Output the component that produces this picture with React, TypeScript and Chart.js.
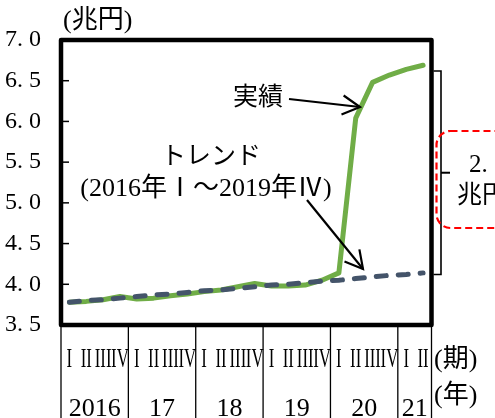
import { useEffect, useRef } from "react";
import { Chart, registerables } from "chart.js";
import type { Plugin } from "chart.js";

Chart.register(...registerables);

// 2016 Q1 – 2021 Q2
const quarterNames = [
  "I", "II", "III", "IV",
  "I", "II", "III", "IV",
  "I", "II", "III", "IV",
  "I", "II", "III", "IV",
  "I", "II", "III", "IV",
  "I", "II",
];
const yearNames = ["2016", "17", "18", "19", "20", "21"];
const yearQuarterCounts = [4, 4, 4, 4, 4, 2];

// 兆円
const actualValues = [
  3.78, 3.79, 3.81, 3.85, 3.82, 3.83, 3.86, 3.88, 3.91, 3.93, 3.97,
  4.01, 3.98, 3.98, 3.99, 4.05, 4.14, 6.04, 6.48, 6.57, 6.64, 6.69,
];
const trendValues = [
  3.78, 3.80, 3.81, 3.83, 3.85, 3.87, 3.88, 3.90, 3.92, 3.93, 3.95,
  3.97, 3.99, 4.00, 4.02, 4.04, 4.05, 4.07, 4.09, 4.11, 4.12, 4.14,
];

const yMin = 3.5;
const yMax = 7.0;
const yStep = 0.5;

// gap between actual and trend at the latest quarter
const gapTop = 6.62;
const gapBottom = 4.12;
const gapText = ["2. 5", "兆円"];

const FONT = '"Liberation Serif", "Noto Sans CJK JP", serif';
const font = (size: number) => `${size}px ${FONT}`;

function segment(ctx: CanvasRenderingContext2D, x1: number, y1: number, x2: number, y2: number) {
  ctx.beginPath();
  ctx.moveTo(x1, y1);
  ctx.lineTo(x2, y2);
  ctx.stroke();
}

function arrow(ctx: CanvasRenderingContext2D, x1: number, y1: number, x2: number, y2: number) {
  segment(ctx, x1, y1, x2, y2);
  const ang = Math.atan2(y2 - y1, x2 - x1);
  const len = 20;
  const spread = 0.5;
  ctx.beginPath();
  ctx.moveTo(x2 - len * Math.cos(ang - spread), y2 - len * Math.sin(ang - spread));
  ctx.lineTo(x2, y2);
  ctx.lineTo(x2 - len * Math.cos(ang + spread), y2 - len * Math.sin(ang + spread));
  ctx.stroke();
}

const decorations: Plugin<"line"> = {
  id: "decorations",
  afterDraw(chart) {
    const { ctx, chartArea: a, scales } = chart;
    const xs = scales.x;
    const ys = scales.y;
    const H = chart.height;
    ctx.save();
    ctx.strokeStyle = "#000";
    ctx.fillStyle = "#000";

    // plot frame
    ctx.lineWidth = 4.5;
    ctx.lineJoin = "round";
    ctx.strokeRect(a.left, a.top, a.right - a.left, a.bottom - a.top);
    ctx.lineJoin = "miter";

    // inward tick marks on the value axis
    ctx.lineWidth = 1.5;
    ys.ticks.forEach((t) => {
      const y = ys.getPixelForValue(t.value);
      if (y > a.top + 4 && y < a.bottom - 4) segment(ctx, a.left, y, a.left + 8, y);
    });

    // quarter labels (narrow roman numerals)
    const step = xs.getPixelForValue(1) - xs.getPixelForValue(0);
    ctx.font = font(28);
    ctx.textAlign = "center";
    ctx.textBaseline = "alphabetic";
    quarterNames.forEach((q, i) => {
      const x = xs.getPixelForValue(i);
      ctx.save();
      ctx.translate(x, 367);
      ctx.scale(0.6, 1);
      ctx.fillText(q, 0, 0);
      ctx.restore();
    });

    // year groups with separators
    ctx.lineWidth = 1.3;
    ctx.font = font(26);
    let start = 0;
    yearNames.forEach((yr, k) => {
      const n = yearQuarterCounts[k];
      const x0 = xs.getPixelForValue(start) - step / 2;
      const x1 = xs.getPixelForValue(start + n - 1) + step / 2;
      segment(ctx, x0, a.bottom, x0, H);
      if (k === yearNames.length - 1) segment(ctx, x1, a.bottom, x1, H);
      ctx.fillText(yr, (x0 + x1) / 2, 416);
      start += n;
    });

    ctx.textAlign = "left";
    ctx.textBaseline = "middle";
    ctx.font = font(26);
    ctx.fillText("(期)", 434, 360);
    ctx.fillText("(年)", 434, 396);
    ctx.fillText("(兆円)", 63, 21);

    // series annotations
    ctx.font = font(25);
    ctx.fillText("実績", 233, 98);
    ctx.textAlign = "center";
    ctx.fillText("トレンド", 211, 157);
    ctx.font = font(26);
    ctx.fillText("(2016年Ⅰ～2019年Ⅳ)", 206, 189);
    ctx.lineWidth = 2.2;
    arrow(ctx, 289, 99, 360, 107);
    arrow(ctx, 307, 200, 363, 269);

    // bracket for the gap at the latest quarter
    const yt = ys.getPixelForValue(gapTop);
    const yb = ys.getPixelForValue(gapBottom);
    const bx = a.right + 9.5;
    ctx.lineWidth = 1.6;
    ctx.beginPath();
    ctx.moveTo(a.right + 2, yt);
    ctx.lineTo(bx, yt);
    ctx.lineTo(bx, yb);
    ctx.lineTo(a.right + 2, yb);
    ctx.stroke();
    ctx.lineWidth = 2;
    segment(ctx, bx, (yt + yb) / 2, bx + 9, (yt + yb) / 2);

    // dashed callout
    ctx.strokeStyle = "#FF0000";
    ctx.lineWidth = 2.2;
    ctx.setLineDash([7, 4]);
    ctx.beginPath();
    ctx.roundRect(a.right + 5, 131, 120, 97, 14);
    ctx.stroke();
    ctx.setLineDash([]);

    ctx.fillStyle = "#000";
    ctx.textAlign = "left";
    ctx.font = font(25);
    ctx.fillText(gapText[0], 469, 165);
    ctx.fillText(gapText[1], 457, 196);

    ctx.restore();
  },
};

export default function App() {
  const ref = useRef<HTMLCanvasElement>(null);

  useEffect(() => {
    const canvas = ref.current;
    if (!canvas) return;
    const chart = new Chart(canvas, {
      type: "line",
      data: {
        labels: quarterNames,
        datasets: [
          {
            label: "トレンド",
            data: trendValues,
            borderColor: "#44546A",
            borderWidth: 5,
            borderDash: [10, 12],
            borderCapStyle: "round",
            pointRadius: 0,
            tension: 0,
            order: 0,
          },
          {
            label: "実績",
            data: actualValues,
            borderColor: "#70AD47",
            borderWidth: 5,
            borderJoinStyle: "round",
            borderCapStyle: "round",
            pointRadius: 0,
            tension: 0,
            order: 1,
          },
        ],
      },
      options: {
        responsive: false,
        animation: false,
        events: [],
        layout: { padding: { top: 40, right: 63.5, left: 0, bottom: 0 } },
        plugins: { legend: { display: false }, tooltip: { enabled: false } },
        scales: {
          x: {
            type: "category",
            offset: true,
            grid: { display: false, drawTicks: false },
            border: { display: false },
            ticks: { display: false },
            afterFit: (s: any) => {
              s.height = 93;
            },
          },
          y: {
            min: yMin,
            max: yMax,
            grid: { display: false, drawTicks: false },
            border: { display: false },
            ticks: {
              stepSize: yStep,
              padding: 20,
              color: "#000",
              font: { family: '"Liberation Serif", serif', size: 24 },
              callback: (v: any) => Number(v).toFixed(1).replace(".", ". "),
            },
            afterFit: (s: any) => {
              s.width = 61;
            },
          },
        },
      },
      plugins: [decorations],
    });
    return () => chart.destroy();
  }, []);

  return (
    <div style={{ position: "absolute", left: 0, top: 0, width: 495, height: 418, background: "#fff" }}>
      <canvas ref={ref} width={495} height={418} style={{ display: "block" }} />
    </div>
  );
}
